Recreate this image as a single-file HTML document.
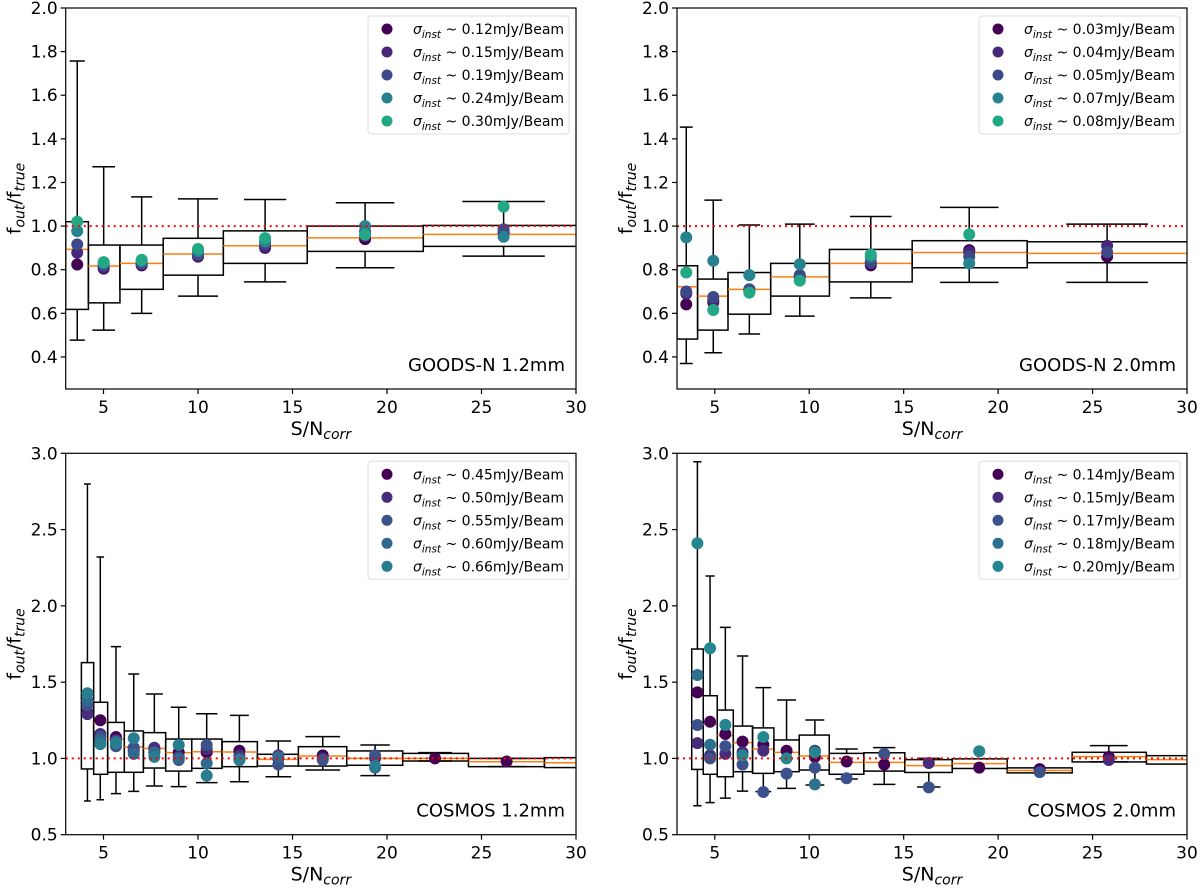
<!DOCTYPE html>
<html><head><meta charset="utf-8"><style>
html,body{margin:0;padding:0;background:#fff;}
svg{display:block;font-family:"DejaVu Sans","Liberation Sans",sans-serif;}
</style></head><body>
<svg id="fig" width="1200" height="888" viewBox="0 0 1200 888"></svg>
<script>
// ---------- GOODS-N 1.2mm ----------
const tlEdges=[3.0,4.2,5.87,8.16,11.34,15.78,21.92,30.5];
const tlCenters=[3.61,5.01,7.02,10.0,13.55,18.84,26.17];
const tlQ1=[.618,.648,.710,.775,.829,.884,.907];
const tlQ3=[1.02,.913,.913,.944,.978,1.0,1.003];
const tlMed=[.893,.817,.829,.872,.910,.946,.962];
const tlLo=[.477,.523,.600,.679,.744,.809,.862];
const tlHi=[1.757,1.272,1.134,1.125,1.122,1.107,1.113];
const tlCap=[.4,.6,.56,1.06,1.12,1.55,2.18];
const tlPts=[[.824,.878,.916,.977,1.02],[.805,.81,.82,.83,.835],[.82,.825,.83,.84,.845],[.86,.865,.87,.885,.895],[.90,.905,.92,.93,.945],[.94,.955,.975,1.0,.96],[.97,.985,.985,.951,1.089]];
const tlLegend=["0.12","0.15","0.19","0.24","0.30"];
// ---------- GOODS-N 2.0mm ----------
const trEdges=[3.0,4.09,5.7,7.96,11.07,15.45,21.54,30.5];
const trCenters=[3.49,4.92,6.83,9.5,13.26,18.47,25.77];
const trQ1=[.482,.523,.596,.679,.744,.809,.832];
const trQ3=[.818,.757,.787,.829,.893,.933,.928];
const trMed=[.722,.679,.710,.767,.829,.879,.875];
const trLo=[.37,.419,.505,.587,.671,.742,.742];
const trHi=[1.454,1.119,1.005,1.009,1.044,1.086,1.009];
const trCap=[.34,.47,.57,.79,1.1,1.55,2.16];
const trPts=[[.641,.69,.70,.948,.787],[.65,.66,.675,.841,.615],[.70,.71,.71,.775,.695],[.765,.77,.775,.825,.75],[.82,.83,.835,.86,.87],[.89,.88,.86,.829,.962],[.86,.91,.88,null,null]];
const trLegend=["0.03","0.04","0.05","0.07","0.08"];
// ---------- COSMOS 1.2mm ----------
const blEdges=[3.83,4.48,5.22,6.1,7.11,8.29,9.67,11.27,13.14,15.31,17.87,20.83,24.31,28.33,30.5];
const blCenters=[4.15,4.83,5.66,6.6,7.69,8.98,10.46,12.19,14.25,16.6,19.37,22.54,26.33,31];
const blQ1=[.931,.896,.909,.909,.937,.917,.935,.946,.95,.95,.955,.983,.946,.94];
const blQ3=[1.628,1.368,1.236,1.18,1.169,1.127,1.127,1.11,1.027,1.077,1.049,1.033,1.0,1.005];
const blMed=[1.379,1.234,1.125,1.075,1.066,1.038,1.044,1.042,.994,1.016,1.0,1.0,.978,.972];
const blLo=[.721,.729,.769,.784,.819,.815,.841,.847,.88,.924,.887,.983,.946,.94];
const blHi=[2.799,2.32,1.733,1.553,1.422,1.335,1.293,1.282,1.114,1.143,1.088,1.038,1.0,1.005];
const blCap=[.18,.2,.27,.29,.45,.42,.57,.5,.68,.92,.78,.9,1.0,1.0];
const blPts=[[1.30,1.29,1.35,1.38,1.427],[1.25,1.16,1.14,1.12,1.094],[1.14,1.12,1.08,1.11,1.10],[1.07,1.05,1.07,1.03,1.132],[1.06,1.07,1.04,1.04,1.01],[1.04,1.01,.99,1.0,1.088],[1.04,1.06,1.088,.968,.887],[1.05,1.02,1.0,.99,.99],[1.0,1.02,.96,1.01,null],[1.02,1.0,.99,null,null],[null,1.0,1.02,.94,.95],[1.0,null,null,null,null],[.98,null,null,null,null],[null,null,null,null,null]];
const blLegend=["0.45","0.50","0.55","0.60","0.66"];
// ---------- COSMOS 2.0mm ----------
const brEdges=[3.78,4.39,5.13,5.98,7.0,8.13,9.47,11.06,12.89,15.06,17.57,20.48,23.92,27.85,30.5];
const brCenters=[4.08,4.75,5.56,6.47,7.57,8.8,10.3,11.98,13.97,16.33,19.0,22.2,25.86,31];
const brQ1=[.928,.896,.88,.913,.902,.913,.924,.896,.917,.908,.934,.905,.977,.963];
const brQ3=[1.717,1.411,1.317,1.212,1.2,1.121,1.153,1.033,1.037,.992,.997,.938,1.04,1.018];
const brMed=[1.424,1.223,1.149,1.103,1.062,1.04,1.016,.974,.974,.953,.966,.921,1.012,.992];
const brLo=[.69,.71,.74,.786,.782,.804,.826,.865,.83,.813,.934,.905,.977,.963];
const brHi=[2.945,2.196,1.859,1.671,1.464,1.383,1.252,1.062,1.071,1.0,.997,.938,1.084,1.018];
const brCap=[.22,.24,.29,.3,.42,.5,.5,.59,.59,.62,0,0,1.0,0];
const brPts=[[1.433,1.10,1.219,1.547,2.41],[1.24,1.02,1.0,1.09,1.722],[1.16,1.03,1.08,null,1.22],[1.11,1.04,.96,null,1.02],[1.09,1.05,.78,null,1.14],[1.05,null,.9,null,1.0],[1.01,1.05,.94,.83,1.04],[.98,null,.87,null,null],[.96,null,1.03,null,null],[null,.97,.81,null,null],[.94,null,null,null,1.047],[.93,null,.91,null,null],[1.01,.99,null,null,null],[null,null,null,null,null]];
const brLegend=["0.14","0.15","0.17","0.18","0.20"];

const NS="http://www.w3.org/2000/svg";
const svg=document.getElementById('fig');
function el(tag,attrs,parent){const e=document.createElementNS(NS,tag);for(const k in attrs)e.setAttribute(k,attrs[k]);(parent||svg).appendChild(e);return e;}

const panels=[
 {id:'tl',l:65.7,t:8,r:576,b:389,ylim:[0.253,2.0],yt:[0.4,0.6,0.8,1.0,1.2,1.4,1.6,1.8,2.0],edges:tlEdges,cen:tlCenters,q1:tlQ1,q3:tlQ3,med:tlMed,lo:tlLo,hi:tlHi,cap:tlCap,pts:tlPts,leg:tlLegend,label:'GOODS-N 1.2mm',cols:['#440154','#482878','#3e4989','#26828e','#22a884']},
 {id:'tr',l:677,t:8,r:1187,b:389,ylim:[0.253,2.0],yt:[0.4,0.6,0.8,1.0,1.2,1.4,1.6,1.8,2.0],edges:trEdges,cen:trCenters,q1:trQ1,q3:trQ3,med:trMed,lo:trLo,hi:trHi,cap:trCap,pts:trPts,leg:trLegend,label:'GOODS-N 2.0mm',cols:['#440154','#482878','#3e4989','#26828e','#22a884']},
 {id:'bl',l:65.7,t:453.3,r:576,b:834.7,ylim:[0.5,3.0],yt:[0.5,1.0,1.5,2.0,2.5,3.0],edges:blEdges,cen:blCenters,q1:blQ1,q3:blQ3,med:blMed,lo:blLo,hi:blHi,cap:blCap,pts:blPts,leg:blLegend,label:'COSMOS 1.2mm',cols:['#440154','#472d7b','#3b528b','#31688e','#287d8e']},
 {id:'br',l:677,t:453.3,r:1187,b:834.7,ylim:[0.5,3.0],yt:[0.5,1.0,1.5,2.0,2.5,3.0],edges:brEdges,cen:brCenters,q1:brQ1,q3:brQ3,med:brMed,lo:brLo,hi:brHi,cap:brCap,pts:brPts,leg:brLegend,label:'COSMOS 2.0mm',cols:['#440154','#472c7a','#3b518b','#2c718e','#24868e']}
];
const xTicks=[5,10,15,20,25,30];

panels.forEach(p=>{
  const X=v=>p.l+(v-3)/27*(p.r-p.l);
  const Y=v=>p.b-(v-p.ylim[0])/(p.ylim[1]-p.ylim[0])*(p.b-p.t);
  const g=el('g',{});
  
  
  const cp=el('clipPath',{id:'clip-'+p.id},g);
  el('rect',{x:p.l,y:p.t,width:p.r-p.l,height:p.b-p.t},cp);
  const plot=el('g',{'clip-path':'url(#clip-'+p.id+')'},g);
  
  
  for(let i=0;i<p.cen.length;i++){
    const cx=X(p.cen[i]);
    const box=el('rect',{x:X(p.edges[i]),y:Y(p.q3[i]),width:X(p.edges[i+1])-X(p.edges[i]),height:Y(p.q1[i])-Y(p.q3[i]),fill:'none',stroke:'#000','stroke-width':1.5},plot);
    
    
    if(p.cap[i]>0){
      const w=el('path',{d:`M${cx},${Y(p.q3[i])}V${Y(p.hi[i])}M${cx},${Y(p.q1[i])}V${Y(p.lo[i])}M${X(p.cen[i]-p.cap[i])},${Y(p.hi[i])}H${X(p.cen[i]+p.cap[i])}M${X(p.cen[i]-p.cap[i])},${Y(p.lo[i])}H${X(p.cen[i]+p.cap[i])}`,stroke:'#000','stroke-width':1.5,fill:'none'},plot);
      
      
    }
    const m=el('line',{x1:X(p.edges[i]),x2:X(p.edges[i+1]),y1:Y(p.med[i]),y2:Y(p.med[i]),stroke:'#ff7f0e','stroke-width':1.5},plot);
    
    
  }
  for(let i=0;i<p.pts.length;i++){
    p.pts[i].forEach((v,c)=>{
      if(v===null)return;
      const pt=el('circle',{cx:X(p.cen[i]),cy:Y(v),r:6,fill:p.cols[c]},plot);
      
      
    });
  }
  const ref=el('line',{x1:p.l,x2:p.r,y1:Y(1.0),y2:Y(1.0),stroke:'#ff0000','stroke-width':2,'stroke-dasharray':'2,4'},plot);
  
  
  const fr=el('rect',{x:p.l,y:p.t,width:p.r-p.l,height:p.b-p.t,fill:'none',stroke:'#000','stroke-width':1.2},g);
  
  
  xTicks.forEach(t=>{
    el('line',{x1:X(t),x2:X(t),y1:p.b,y2:p.b+5,stroke:'#000','stroke-width':1.2},g);
    const tx=el('text',{x:X(t),y:p.b+24,'font-size':17,'text-anchor':'middle',fill:'#000'},g);
    tx.textContent=t;
    
    
  });
  p.yt.forEach(t=>{
    el('line',{x1:p.l-5,x2:p.l,y1:Y(t),y2:Y(t),stroke:'#000','stroke-width':1.2},g);
    const tx=el('text',{x:p.l-8,y:Y(t)+6,'font-size':17,'text-anchor':'end',fill:'#000'},g);
    tx.textContent=t.toFixed(1);
    
    
  });
  const xl=el('text',{x:(p.l+p.r)/2,y:p.b+46,'font-size':19,'text-anchor':'middle'},g);
  xl.innerHTML='S/N<tspan font-style="italic" font-size="14" dy="4">corr</tspan>';
  
  
  const yc=(p.t+p.b)/2, yx=p.l-45;
  const yl=el('text',{x:yx,y:yc,'font-size':19,'text-anchor':'middle',transform:`rotate(-90 ${yx} ${yc})`},g);
  yl.innerHTML='f<tspan font-style="italic" font-size="14" dy="4">out</tspan><tspan dy="-4">/f</tspan><tspan font-style="italic" font-size="14" dy="4">true</tspan>';
  
  
  const lb=el('text',{x:p.r-11,y:p.b-18,'font-size':18,'text-anchor':'end'},g);
  lb.textContent=p.label;
  
  
  const lg=el('g',{},g);
  
  
  el('rect',{x:p.r-208,y:p.t+8,width:201,height:118,rx:3,fill:'#fff',stroke:'#ddd','stroke-width':1},lg);
  p.leg.forEach((s,k)=>{
    const ry=p.t+21+k*23;
    const e=el('g',{},lg);
    
    
    el('circle',{cx:p.r-189,cy:ry,r:5.5,fill:p.cols[k]},e);
    const t=el('text',{x:p.r-163,y:ry+5,'font-size':14},e);
    t.innerHTML='<tspan font-style="italic">σ</tspan><tspan font-style="italic" font-size="10.5" dy="4">inst</tspan><tspan dy="-4"> ~ '+s+'mJy/Beam</tspan>';
  });
});
</script>
</body></html>
